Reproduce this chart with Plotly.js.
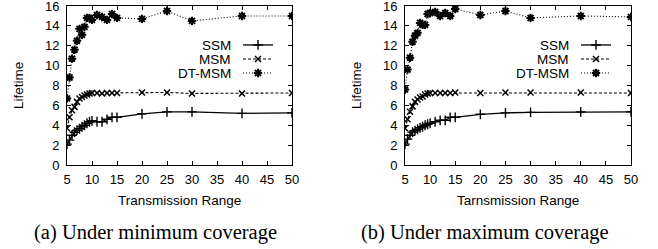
<!DOCTYPE html>
<html>
<head>
<meta charset="utf-8">
<script src="https://cdn.plot.ly/plotly-3.0.1.min.js"></script>
<style>html,body{margin:0;padding:0;background:#fff;}#chart{width:658px;height:249px;}</style>
</head>
<body>
<div id="chart"></div>
<script>
// ---- data ----
const ranges = [5,5.5,6,6.5,7,7.5,8,8.5,9,9.5,10,11,12,13,14,15,20,25,30,40,50];
const seriesNames = ['SSM','MSM','DT-MSM'];
// (a) minimum coverage
const ssmMin = [2.1,2.5,3.0,3.3,3.5,3.65,3.85,4.0,4.2,4.35,4.45,4.35,4.35,4.6,4.8,4.8,5.15,5.35,5.35,5.2,5.25];
const msmMin = [3.7,4.8,5.5,5.85,6.35,6.7,6.85,7.0,7.1,7.2,7.25,7.25,7.2,7.25,7.25,7.25,7.3,7.3,7.2,7.2,7.25];
const dtMin  = [6.7,8.8,10.7,11.6,12.5,13.7,13.1,13.9,14.8,14.8,14.6,15.1,14.9,14.6,15.2,14.8,14.7,15.5,14.5,15.0,15.0];
// (b) maximum coverage
const ssmMax = [2.1,2.6,3.0,3.3,3.45,3.6,3.75,3.85,4.0,4.1,4.2,4.35,4.5,4.5,4.8,4.8,5.1,5.25,5.3,5.35,5.35];
const msmMax = [3.7,4.6,5.35,5.9,6.35,6.6,6.8,6.9,7.1,7.2,7.25,7.25,7.25,7.25,7.25,7.3,7.25,7.3,7.3,7.3,7.25];
const dtMax  = [7.6,9.6,10.8,12.4,13.0,13.3,14.3,14.1,14.1,15.2,15.3,15.4,15.0,15.3,15.0,15.7,15.1,15.5,14.8,15.0,14.9];
const xTicks = [5,10,15,20,25,30,35,40,45,50];
const yTicks = [0,2,4,6,8,10,12,14,16];
const xTitles = ['Transmission Range','Tarnsmission Range'];
const yTitle = 'Lifetime';
const captions = ['(a) Under minimum coverage','(b) Under maximum coverage'];

// ---- styles ----
const W = 658, H = 249;
const px = v => v / W, py = v => 1 - v / H;
const sans = 'Liberation Sans, Arial, Helvetica, sans-serif';
const styles = [
  {line:{color:'#000',width:1.3,dash:'solid'}, marker:{symbol:'cross-thin-open',size:7,color:'#000',line:{color:'#000',width:1.4}}},
  {line:{color:'#000',width:1.1,dash:'3px,2px'}, marker:{symbol:'x-thin-open',size:6,color:'#000',line:{color:'#000',width:1.5}}},
  {line:{color:'#000',width:1.1,dash:'1px,2px'}, marker:{symbol:'asterisk-open',size:7,color:'#000',line:{color:'#000',width:2}}}
];
const panels = [
  {xa:'x', ya:'y', data:[ssmMin,msmMin,dtMin], legends:['legend','legend2','legend3']},
  {xa:'x2', ya:'y2', data:[ssmMax,msmMax,dtMax], legends:['legend4','legend5','legend6']}
];
const traces = [];
panels.forEach(p => {
  p.data.forEach((vals, i) => {
    traces.push({
      type:'scatter', mode:'lines+markers', x:ranges, y:vals,
      xaxis:p.xa, yaxis:p.ya, name:'', legend:p.legends[i], showlegend:true,
      line:styles[i].line, marker:styles[i].marker, hoverinfo:'x+y'
    });
  });
});

const axisCommon = {
  showline:true, linecolor:'#000', linewidth:1, mirror:'ticks',
  ticks:'inside', ticklen:4, tickcolor:'#000', tickwidth:1,
  showgrid:false, zeroline:false, fixedrange:true, ticklabeloverflow:'allow',
  tickfont:{family:sans,size:13,color:'#000'}
};
const plotL = [67, 292], plotR = [405, 631], plotTB = [6, 165];
const legendRows = [45, 59, 73];
const legendSampleX = [243, 581];

const layout = {
  width:W, height:H, margin:{l:0,r:0,t:0,b:0},
  paper_bgcolor:'#fff', plot_bgcolor:'#fff', showlegend:true,
  xaxis: Object.assign({}, axisCommon, {domain:[px(plotL[0]),px(plotL[1])], range:[5,50], tickvals:xTicks, anchor:'y', ticklabelstandoff:2}),
  yaxis: Object.assign({}, axisCommon, {domain:[py(plotTB[1]),py(plotTB[0])], range:[0,16], tickvals:yTicks, anchor:'x', ticklabelstandoff:4}),
  xaxis2: Object.assign({}, axisCommon, {domain:[px(plotR[0]),px(plotR[1])], range:[5,50], tickvals:xTicks, anchor:'y2', ticklabelstandoff:2}),
  yaxis2: Object.assign({}, axisCommon, {domain:[py(plotTB[1]),py(plotTB[0])], range:[0,16], tickvals:yTicks, anchor:'x2', ticklabelstandoff:4}),
  annotations: [],
  font:{family:sans,color:'#000'}
};
['legend','legend2','legend3','legend4','legend5','legend6'].forEach((name, k) => {
  const panel = Math.floor(k/3), row = k % 3;
  layout[name] = {
    x: px(legendSampleX[panel] - 5), y: py(legendRows[row]), xanchor:'left', yanchor:'middle',
    bgcolor:'rgba(0,0,0,0)', borderwidth:0, font:{family:sans,size:13,color:'#000'},
    itemclick:false, itemdoubleclick:false
  };
});
// legend texts to the left of the samples
[0,1].forEach(panel => {
  seriesNames.forEach((n, row) => {
    layout.annotations.push({text:n, xref:'paper', yref:'paper', x:px(legendSampleX[panel]-10), y:py(legendRows[row]),
      xanchor:'right', yanchor:'middle', showarrow:false, font:{family:sans,size:13.5,color:'#000'}});
  });
});
// axis titles
const yTitleX = [18, 356];
[0,1].forEach(panel => {
  const pl = panel === 0 ? plotL : plotR;
  layout.annotations.push({text:xTitles[panel], xref:'paper', yref:'paper', x:px((pl[0]+pl[1])/2), y:py(200),
    xanchor:'center', yanchor:'middle', showarrow:false, font:{family:sans,size:13.5,color:'#000'}});
  layout.annotations.push({text:yTitle, xref:'paper', yref:'paper', x:px(yTitleX[panel]), y:py(86), textangle:-90,
    xanchor:'center', yanchor:'middle', showarrow:false, font:{family:sans,size:13.5,color:'#000'}});
});
// captions
const capX = [155, 485];
[0,1].forEach(panel => {
  layout.annotations.push({text:captions[panel], xref:'paper', yref:'paper', x:px(capX[panel]), y:py(232),
    xanchor:'center', yanchor:'middle', showarrow:false, font:{family:'Liberation Serif, Times New Roman, serif',size:20.5,color:'#000'}});
});

Plotly.newPlot('chart', traces, layout, {displayModeBar:false, staticPlot:true});
</script>
</body>
</html>
